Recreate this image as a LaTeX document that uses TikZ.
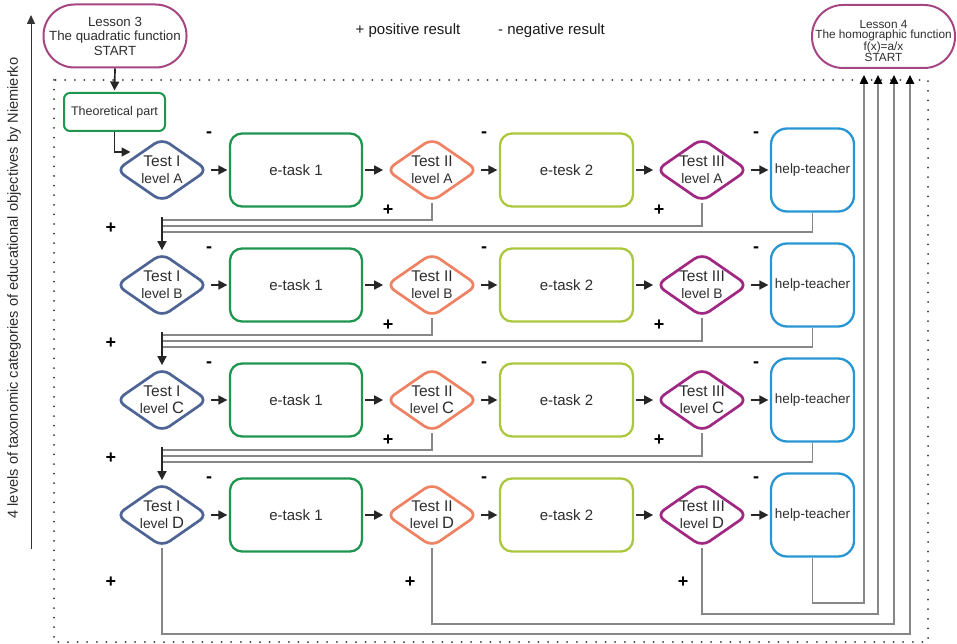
\documentclass[tikz,border=0pt]{standalone}
\usepackage{fontspec}
\setmainfont{Liberation Sans}
\usetikzlibrary{shapes.geometric,arrows.meta}
\definecolor{cTone}{RGB}{78,100,148}
\definecolor{cEone}{RGB}{30,150,80}
\definecolor{cTtwo}{RGB}{240,130,100}
\definecolor{cEtwo}{RGB}{170,200,60}
\definecolor{cTthree}{RGB}{160,40,130}
\definecolor{cHelp}{RGB}{40,150,210}
\definecolor{cLesson}{RGB}{165,70,130}
\definecolor{cLine}{RGB}{135,135,135}
\definecolor{cTxt}{RGB}{45,45,45}
\newcommand\bigletter[1]{{\fontsize{16.5}{17}\selectfont #1}}
\newcommand\testhead[1]{{\fontsize{15.5}{17}\selectfont #1}}
\begin{document}
\begin{tikzpicture}[x=1pt,y=-1pt,
 diam/.style={diamond, draw, line width=2.7pt, rounded corners=9pt, aspect=1.44, minimum width=92pt, minimum height=64pt, inner sep=-6pt, align=center, text=cTxt, font=\fontsize{13.8}{17}\selectfont},
 taskbox/.style={rectangle, draw, line width=2.3pt, rounded corners=12pt, minimum width=132pt, minimum height=73pt, text=cTxt, font=\fontsize{15}{17}\selectfont},
 helpbox/.style={rectangle, draw=cHelp, line width=2.3pt, rounded corners=16pt, minimum width=83pt, minimum height=83pt, inner sep=0pt, text=cTxt, font=\fontsize{13.5}{16}\selectfont},
 lesson/.style={rectangle, draw=cLesson, line width=2pt, rounded corners=31pt, minimum width=143pt, minimum height=63pt, align=center, text=cTxt, inner sep=0pt},
 lessontext/.style={align=center, text=cTxt, inner sep=0pt},
 theo/.style={rectangle, draw=cEone, line width=2pt, rounded corners=6pt, minimum width=101pt, minimum height=38pt, inner sep=0pt, text=cTxt, font=\fontsize{12.5}{14}\selectfont},
 arr/.style={draw=black!85, line width=1.7pt, -{Triangle[length=9pt,width=9pt]}, shorten <=2pt, shorten >=1.5pt},
 fb/.style={draw=cLine, line width=1.1pt},
 fbarr/.style={fb, -{Triangle[length=9pt,width=8.5pt,color=black]}, shorten >=6pt},
 sign/.style={text=black, font=\bfseries\fontsize{18}{18}\selectfont, inner sep=0pt},
 legend/.style={text=black!90, font=\fontsize{15}{17}\selectfont, inner sep=0pt},
 dots/.style={draw=black!80, line width=2pt, line cap=round, dash pattern=on 0pt off 9.6pt},
]
\useasboundingbox (0,0) rectangle (957,644);

% frame of the levels
\draw[dots] (54,80) rectangle (928,642);

% axis
\coordinate (ax0) at (31,549);
\coordinate (ax1) at (31,15);
\draw[line width=1pt, black!80, -{Triangle[length=9pt,width=8pt]}] (ax0) -- (ax1);
\node[rotate=90, text=cTxt, font=\fontsize{14.6}{16}\selectfont, inner sep=0pt] (axlab) at (14,288)
  {4 levels of taxonomic categories of educational objectives by Niemierko};

% legend
\node[legend] (legp) at (408,31) {+ positive result};
\node[legend] (legn) at (551.5,31) {- negative result};

% lessons
\node[lesson, font=\fontsize{13.3}{14.5}\selectfont] (L3) at (115,36)
  {Lesson 3\\The quadratic function\\START};
\node[lesson] (L4) at (883.5,36.5) {};
\node[lessontext, font=\fontsize{11.8}{10.8}\selectfont] (L4t) at (883.5,41)
  {Lesson 4\\The homographic function\\f(x)=a/x\\START};

\node[theo] (theo) at (114.5,112) {Theoretical part};
\draw[arr, shorten <=0pt] (L3.south) -- (theo.north);
\coordinate (tin) at (132,152);

% rows
\foreach \r/\y/\lab/\etwo in {A/170/A/e-tesk 2, B/285/B/e-task 2, C/400/\bigletter{C}/e-task 2, D/515/\bigletter{D}/e-task 2}{
  \node[diam, draw=cTone] (t1\r) at (162,\y) {\testhead{Test I}\\level \lab};
  \node[taskbox, draw=cEone] (e1\r) at (296,\y) {e-task 1};
  \node[diam, draw=cTtwo] (t2\r) at (432,\y) {\testhead{Test II}\\level \lab};
  \node[taskbox, draw=cEtwo, minimum width=133pt] (e2\r) at (566.5,\y) {\etwo};
  \node[diam, draw=cTthree] (t3\r) at (702,\y) {\testhead{Test III}\\level \lab};
  \node[helpbox] (h\r) at (812.5,\y) {help-teacher};
  \draw[arr] (t1\r) -- (e1\r);
  \draw[arr] (e1\r) -- (t2\r);
  \draw[arr] (t2\r) -- (e2\r);
  \draw[arr] (e2\r) -- (t3\r);
  \draw[arr] (t3\r) -- (h\r);
  \node[sign] (m1\r) at (209,\y-35) {-};
  \node[sign] (m2\r) at (484,\y-35) {-};
  \node[sign] (m3\r) at (756,\y-35) {-};
}

\draw[arr, shorten <=0pt] (theo.south) |- (tin);

% plus labels
\foreach \r/\y in {A/170, B/285, C/400}{
  \node[sign] (p1\r) at (111,\y+58) {+};
  \node[sign] (p2\r) at (388,\y+40) {+};
  \node[sign] (p3\r) at (659,\y+40) {+};
}
\node[sign] (p1D) at (111,582) {+};
\node[sign] (p2D) at (410,582) {+};
\node[sign] (p3D) at (683,582) {+};

% feedback to the next level
\foreach \r/\n/\y in {A/B/170, B/C/285, C/D/400}{
  \coordinate (ja\r) at (162,\y+50);
  \coordinate (jb\r) at (162,\y+56);
  \coordinate (jc\r) at (162,\y+62);
  \coordinate (js\r) at (162,\y+47);
  \draw[fb] (t2\r.south) |- (ja\r);
  \draw[fb] (t3\r.south) |- (jb\r);
  \draw[fb] (h\r.south) |- (jc\r);
  \draw[arr, shorten <=0pt] (js\r) -- (t1\n.north);
}

% last level to lesson 4
\coordinate (k1) at (864,603);
\coordinate (k2) at (878,614);
\coordinate (k3) at (894,624);
\coordinate (k4) at (910,634);
\draw[fbarr] (hD.south) |- (k1) -- (k1 |- L4.south);
\draw[fbarr] (t3D.south) |- (k2) -- (k2 |- L4.south);
\draw[fbarr] (t2D.south) |- (k3) -- (k3 |- L4.south);
\draw[fbarr] (t1D.south) |- (k4) -- (k4 |- L4.south);
\end{tikzpicture}
\end{document}
